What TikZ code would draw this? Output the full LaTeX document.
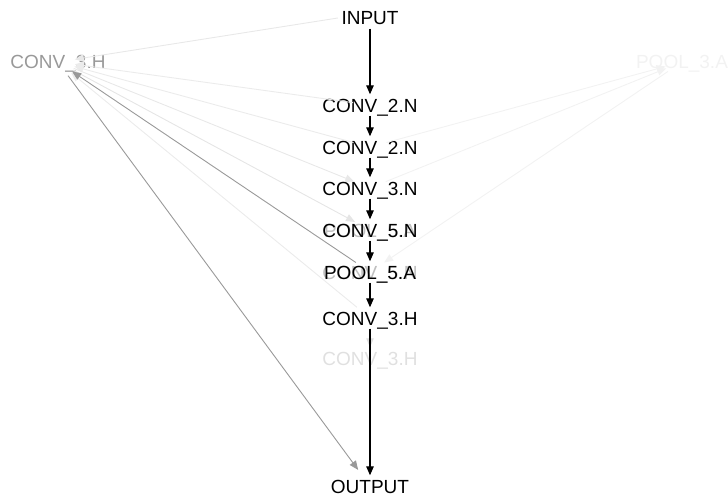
\documentclass[tikz,border=0pt]{standalone}
\usepackage{fontspec}
\setmainfont{Liberation Sans}
\usetikzlibrary{positioning,calc,arrows.meta}

\begin{document}
\begin{tikzpicture}[x=1pt, y=-1pt,
        layer/.style={rectangle, inner sep=3.5pt, text height=14pt, text depth=0pt, font=\fontsize{19}{22}\selectfont},
        arrow/.style={-{Triangle[length=9pt,width=7.5pt]}, line width=1.3pt},
        link/.style={arrow, line width=0.9pt, shorten <=17pt, shorten >=17pt},
      ]
      \useasboundingbox (0,0) rectangle (728,495);
      % Side cells of the other candidates
      \node [layer, text=black!40] (lconv) at (58,62) {CONV\_3.H};
      \node [layer, text=black!5] (rpool) at (682,62) {POOL\_3.A};
      % Ghost labels under the main chain
      \node [layer, text=black!25] (conv5g) at (370,230) {POOL\_5.A};
      \node [layer, text=black!25] (pool5g) at (370,272) {CONV\_5.N};
      \node [layer, text=black!12] (conv3hb) at (370,358) {CONV\_3.H};
      % Main chain
      \node [layer] (input) at (370,18) {INPUT};
      \node [layer] (conv2a) at (370,105) {CONV\_2.N};
      \node [layer] (conv2b) at (370,147) {CONV\_2.N};
      \node [layer] (conv3) at (370,188) {CONV\_3.N};
      \node [layer] (conv5) at (370,230) {CONV\_5.N};
      \node [layer] (pool5) at (370,272) {POOL\_5.A};
      \node [layer] (conv3h) at (370,318) {CONV\_3.H};
      \node [layer] (output) at (370,486) {OUTPUT};
      % Very faint edges
      \draw [link, black!5] (conv2b.center) -- (rpool.center);
      \draw [link, black!5] (conv3.center) -- (rpool.center);
      \draw [link, black!5] (rpool.center) -- (pool5.center);
      % Faint edges
      \draw [link, black!9, shorten <=0pt] (input.west) -- (lconv.center);
      \draw [link, black!8] (conv2a.center) -- (lconv.center);
      \draw [link, black!8] (conv2b.center) -- (lconv.center);
      \draw [link, black!9] (lconv.center) -- (conv3.center);
      \draw [link, black!10] (lconv.center) -- (conv5.center);
      \draw [link, black!8] (conv3h.center) -- (lconv.center);
      \draw [arrow, black!12, line width=1pt] (conv3h) -- (conv3hb);
      % Gray edges
      \draw [link, black!40] (pool5.center) -- (lconv.center);
      \draw [link, black!40, shorten >=20pt] (lconv.center) -- (output.center);
      % Main edges
      \draw [arrow] (input) -- (conv2a);
      \draw [arrow] (conv2a) -- (conv2b);
      \draw [arrow] (conv2b) -- (conv3);
      \draw [arrow] (conv3) -- (conv5);
      \draw [arrow] (conv5) -- (pool5);
      \draw [arrow] (pool5) -- (conv3h);
      \draw [arrow] (conv3h) -- (output);
    \end{tikzpicture}
\end{document}
